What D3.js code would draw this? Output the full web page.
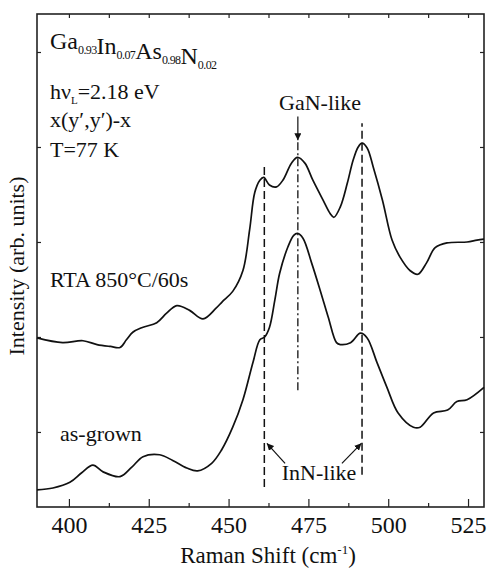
<!DOCTYPE html>
<html>
<head>
<meta charset="utf-8">
<script src="https://cdn.jsdelivr.net/npm/d3@7"></script>
<style>
  html, body { margin: 0; padding: 0; background: #fff; }
  svg { display: block; }
</style>
</head>
<body>
<script>
// ---- data ----
const rtaX = [390, 398, 404.4, 408.8, 413, 416, 418, 420, 423, 427.5, 430.6, 433.8, 437.8, 442, 446, 448, 451.3, 454.5, 456.6, 458.2, 459.8, 461, 462.8, 465, 467, 469.7, 471.6, 473.9, 476.4, 479.6, 481.8, 483, 485, 487.2, 489, 490.6, 491.8, 493.4, 495.3, 498.2, 501.2, 503.7, 506.8, 509.3, 512, 514.7, 518.4, 524.7, 527.8, 530];
const rtaY = [0.99, 0.94, 0.96, 0.92, 0.90, 0.89, 0.97, 1.05, 1.10, 1.15, 1.25, 1.33, 1.28, 1.19, 1.30, 1.37, 1.48, 1.70, 2.13, 2.52, 2.65, 2.68, 2.60, 2.58, 2.65, 2.83, 2.89, 2.83, 2.65, 2.44, 2.30, 2.26, 2.37, 2.62, 2.86, 3.00, 3.04, 2.99, 2.79, 2.44, 2.02, 1.84, 1.70, 1.66, 1.78, 1.94, 1.99, 2.00, 2.02, 2.03];

const grownX = [390, 395, 400.3, 404, 407.5, 410.7, 416, 419.7, 423.2, 428.4, 432.5, 436.9, 440.3, 444.7, 447.8, 451.3, 454.5, 457.7, 459.8, 461.3, 462.8, 464.5, 466, 468.6, 470.4, 471.6, 473.3, 476, 478.7, 481.2, 483.8, 485, 488.2, 491.3, 493.4, 496.5, 499.6, 503.1, 507.9, 510, 514.2, 518.6, 521.5, 524.7, 530];
const grownY = [-0.61, -0.59, -0.53, -0.43, -0.35, -0.42, -0.47, -0.37, -0.26, -0.24, -0.30, -0.38, -0.41, -0.33, -0.19, 0.05, 0.34, 0.74, 0.97, 1.00, 1.10, 1.39, 1.67, 1.95, 2.07, 2.09, 2.04, 1.78, 1.49, 1.21, 0.94, 0.92, 0.94, 1.04, 0.99, 0.73, 0.47, 0.20, 0.05, 0.05, 0.20, 0.23, 0.32, 0.34, 0.47];

const xMajorTicks = [400, 425, 450, 475, 500, 525];
const xMinorTicks = [412.5, 437.5, 462.5, 487.5, 512.5];
const yTicks = [0, 1, 2, 3, 4];

// reference lines: position, y from, y to
const dashedX = [461.2, 491.8];
const dashedY0 = [-0.58, -0.45];
const dashedY1 = [2.83, 3.25];
const dashDotX = 471.7;
const dashDotY = [0.44, 3.07];

// ---- layout ----
const W = 488, H = 570;
const M = {left: 37, top: 14, right: 4, bottom: 63};
const iw = W - M.left - M.right, ih = H - M.top - M.bottom;
const FONT = "'Liberation Serif'";

const svg = d3.select("body").append("svg").attr("width", W).attr("height", H);
const g = svg.append("g").attr("transform", `translate(${M.left},${M.top})`);

const x = d3.scaleLinear().domain([390, 530]).range([0, iw]);
const y = d3.scaleLinear().domain([-0.79, 4.4]).range([ih, 0]);

const axStyle = sel => {
  sel.select(".domain").remove();
  sel.selectAll("line").attr("stroke", "#222").attr("stroke-width", 1.2);
};
g.append("g").attr("transform", `translate(0,${ih})`)
  .call(d3.axisBottom(x).tickValues(xMajorTicks).tickSize(-8).tickPadding(9).tickFormat(d3.format("d")))
  .call(axStyle)
  .call(s => s.selectAll("text").style("font-family", FONT).style("font-size", "24px").attr("fill", "#111"));
g.append("g").attr("transform", `translate(0,${ih})`)
  .call(d3.axisBottom(x).tickValues(xMinorTicks).tickSize(-4).tickFormat(""))
  .call(axStyle);
g.append("g")
  .call(d3.axisTop(x).tickValues(xMajorTicks.concat(xMinorTicks)).tickSize(-4).tickFormat(""))
  .call(axStyle);
g.append("g").call(d3.axisLeft(y).tickValues(yTicks).tickSize(-4).tickFormat("")).call(axStyle);
g.append("g").attr("transform", `translate(${iw},0)`)
  .call(d3.axisRight(y).tickValues(yTicks).tickSize(-4).tickFormat("")).call(axStyle);

g.append("rect").attr("width", iw).attr("height", ih)
  .attr("fill", "none").attr("stroke", "#222").attr("stroke-width", 1.6);

const line = d3.line().x(d => x(d[0])).y(d => y(d[1])).curve(d3.curveCatmullRom.alpha(0.5));
[[rtaX, rtaY], [grownX, grownY]].forEach(([xs, ys]) => {
  g.append("path").datum(xs.map((v, i) => [v, ys[i]]))
    .attr("d", line).attr("fill", "none").attr("stroke", "#111").attr("stroke-width", 1.7)
    .attr("stroke-linejoin", "round");
});

dashedX.forEach((v, i) => {
  g.append("line").attr("x1", x(v)).attr("x2", x(v))
    .attr("y1", y(dashedY0[i])).attr("y2", y(dashedY1[i]))
    .attr("stroke", "#111").attr("stroke-width", 1.5).attr("stroke-dasharray", "8,4");
});
g.append("line").attr("x1", x(dashDotX)).attr("x2", x(dashDotX))
  .attr("y1", y(dashDotY[0])).attr("y2", y(dashDotY[1]))
  .attr("stroke", "#111").attr("stroke-width", 1.3).attr("stroke-dasharray", "8,3,2,3");

svg.append("defs").append("marker").attr("id", "ah")
  .attr("viewBox", "0 0 10 10").attr("refX", 10).attr("refY", 5)
  .attr("markerWidth", 7).attr("markerHeight", 7).attr("orient", "auto-start-reverse")
  .attr("markerUnits", "userSpaceOnUse")
  .append("path").attr("d", "M0,0 L10,5 L0,10 z").attr("fill", "#111");

function arrow(x1, y1, x2, y2) {
  g.append("line").attr("x1", x(x1)).attr("y1", y(y1)).attr("x2", x(x2)).attr("y2", y(y2))
    .attr("stroke", "#111").attr("stroke-width", 1.2).attr("marker-end", "url(#ah)");
}
arrow(dashDotX, 3.32, dashDotX, 3.07);
arrow(467.7, -0.33, 462.0, -0.12);
arrow(485.5, -0.33, 491.6, -0.12);

const T = (px, py, size) => svg.append("text").attr("x", px).attr("y", py)
  .style("font-family", FONT).style("font-size", size + "px").attr("fill", "#111");

const f = T(50, 49, 24);
[["Ga", "0.93"], ["In", "0.07"], ["As", "0.98"], ["N", "0.02"]].forEach(([el, sub]) => {
  f.append("tspan").style("letter-spacing", "0px").text(el);
  f.append("tspan").attr("dy", 5).style("font-size", "12px").style("letter-spacing", "-0.6px").text(sub);
  f.append("tspan").attr("dy", -5).text("");
});

const h = T(50, 99, 22);
h.append("tspan").text("hν");
h.append("tspan").attr("dy", 5).style("font-size", "11px").text("L");
h.append("tspan").attr("dy", -5).text("=2.18 eV");

T(50, 127, 22).text("x(y′,y′)-x");
T(50, 157, 22).text("T=77 K");
T(50, 287, 22).text("RTA 850°C/60s");
T(60, 441, 22).text("as-grown");
T(320, 110, 22).attr("text-anchor", "middle").text("GaN-like");
T(319, 480, 22).attr("text-anchor", "middle").text("InN-like");

const xl = T(268, 563, 23).attr("text-anchor", "middle");
xl.append("tspan").text("Raman Shift (cm");
xl.append("tspan").attr("dy", -9).style("font-size", "13px").text("-1");
xl.append("tspan").attr("dy", 9).text(")");

T(0, 0, 22).attr("transform", "translate(24,266) rotate(-90)")
  .attr("text-anchor", "middle").text("Intensity (arb. units)");
</script>
</body>
</html>
